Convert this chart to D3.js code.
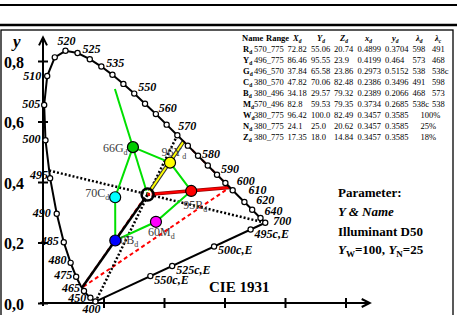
<!DOCTYPE html>
<html>
<head>
<meta charset="utf-8">
<script src="https://cdn.jsdelivr.net/npm/d3@7"></script>
<style>
  body { margin: 0; background: #fff; }
  svg { display: block; font-family: "Liberation Serif", "Times New Roman", serif; }
</style>
</head>
<body>
<div id="chart"></div>
<script>
// CIE 1931 spectral locus (chromaticity x, y)
const locusNm = [380, 400, 420, 440, 450, 455, 460, 465, 470, 475, 480, 485, 490, 495, 500, 505, 510, 515, 520, 525, 530, 535, 540, 545, 550, 555, 560, 565, 570, 575, 580, 585, 590, 595, 600, 605, 610, 615, 620, 630, 640, 650, 700];
const locusX = [0.1741, 0.1733, 0.1714, 0.1644, 0.1566, 0.1510, 0.1440, 0.1355, 0.1241, 0.1096, 0.0913, 0.0687, 0.0454, 0.0235, 0.0082, 0.0039, 0.0139, 0.0389, 0.0743, 0.1142, 0.1547, 0.1929, 0.2296, 0.2658, 0.3016, 0.3373, 0.3731, 0.4087, 0.4441, 0.4788, 0.5125, 0.5448, 0.5752, 0.6029, 0.6270, 0.6482, 0.6658, 0.6801, 0.6915, 0.7079, 0.7190, 0.7260, 0.7347];
const locusY = [0.0050, 0.0048, 0.0051, 0.0109, 0.0177, 0.0227, 0.0297, 0.0399, 0.0578, 0.0868, 0.1327, 0.2007, 0.2950, 0.4127, 0.5384, 0.6548, 0.7502, 0.8120, 0.8338, 0.8262, 0.8059, 0.7816, 0.7543, 0.7243, 0.6923, 0.6589, 0.6245, 0.5896, 0.5547, 0.5202, 0.4866, 0.4544, 0.4242, 0.3965, 0.3725, 0.3514, 0.3340, 0.3197, 0.3083, 0.2920, 0.2809, 0.2740, 0.2653];
const markedNm = [400, 450, 465, 475, 480, 485, 490, 495, 500, 505, 510, 515, 520, 525, 530, 535, 540, 545, 550, 555, 560, 565, 570, 575, 580, 585, 590, 595, 600, 610, 620, 640, 700];
const labeledNm = [400, 450, 465, 475, 480, 485, 490, 495, 500, 505, 510, 520, 525, 535, 550, 560, 570, 580, 590, 600, 610, 620, 640, 700];

// complementary wavelengths on the purple line (relative to E)
const purpleLabels = ['495c,E', '500c,E', '525c,E', '550c,E'];
const purpleX = [0.6863, 0.5655, 0.4270, 0.3549];
const purpleY = [0.2428, 0.1868, 0.1225, 0.0890];

// colour table
const tabNames = ['R', 'Y', 'G', 'C', 'B', 'M', 'W', 'N', 'Z'];
const tabRange = ['570_775', '496_775', '496_570', '380_570', '380_496', '570_496', '380_775', '380_775', '380_775'];
const tabXd = ['72.82', '86.46', '37.84', '47.82', '34.18', '82.8', '96.42', '24.1', '17.35'];
const tabYd = ['55.06', '95.55', '65.58', '70.06', '29.57', '59.53', '100.0', '25.0', '18.0'];
const tabZd = ['20.74', '23.9', '23.86', '82.48', '79.32', '79.35', '82.49', '20.62', '14.84'];
const tabxd = ['0.4899', '0.4199', '0.2973', '0.2386', '0.2389', '0.3734', '0.3457', '0.3457', '0.3457'];
const tabyd = ['0.3704', '0.464', '0.5152', '0.3496', '0.2066', '0.2685', '0.3585', '0.3585', '0.3585'];
const tabLd = ['598', '573', '538', '491', '468', '538c', '', '', ''];
const tabLc = ['491', '468', '538c', '598', '573', '538', '100%', '25%', '18%'];

// plotted colours R Y G C B M, with their Y level
const pointLevel = [95, 96, 66, 70, 70, 60];
const pointColor = ['#ff0000', '#ffff00', '#00cc00', '#00ffff', '#0000ff', '#ff00ff'];

// end points on the spectral locus / gamut corners: R 598, Y 573, G corner, B 468
const endX = [0.6174, 0.4649, 0.2377, 0.1287];
const endY = [0.3821, 0.5340, 0.7074, 0.0506];

const yTicks = [0, 0.2, 0.4, 0.6, 0.8];
const xTicks = [0.2, 0.4, 0.6, 0.8, 1.0];

const W = 457, H = 315;
const svg = d3.select('#chart').append('svg').attr('width', W).attr('height', H);

const x = d3.scaleLinear().domain([0, 1]).range([43, 345.5]);
const y = d3.scaleLinear().domain([0, 0.8]).range([303, 61]);

// frame lines at the top
svg.append('line').attr('x1', 0).attr('x2', W).attr('y1', 5).attr('y2', 5).attr('stroke', '#000').attr('stroke-width', 2);
svg.append('line').attr('x1', 0).attr('x2', W).attr('y1', 25).attr('y2', 25).attr('stroke', '#000').attr('stroke-width', 2.5);
svg.append('rect').attr('x', 1).attr('y', 30).attr('width', 452).attr('height', 300)
    .attr('fill', 'none').attr('stroke', '#000').attr('stroke-width', 1.3);

// Axes
const yAxis = svg.append('g')
    .attr('transform', 'translate(' + x(0) + ',0)')
    .call(d3.axisLeft(y).tickValues(yTicks).tickSize(5).tickPadding(14)
        .tickFormat(d => d.toFixed(1).replace('.', ',')));
yAxis.select('.domain').remove();
yAxis.selectAll('.tick line').attr('x1', 5).attr('x2', -5).attr('stroke-width', 2);
yAxis.selectAll('.tick text')
    .attr('font-family', 'Liberation Serif').attr('font-weight', 'bold').attr('font-size', 16).attr('dy', '0.4em');

const xAxis = svg.append('g')
    .attr('transform', 'translate(0,' + y(0) + ')')
    .call(d3.axisBottom(x).tickValues(xTicks).tickSize(5).tickFormat(''));
xAxis.select('.domain').remove();
xAxis.selectAll('.tick line').attr('y1', -5).attr('y2', 5).attr('stroke-width', 2);

// axis lines with arrows
svg.append('line').attr('x1', x(0)).attr('x2', x(0)).attr('y1', y(-0.01)).attr('y2', y(0.878))
    .attr('stroke', '#000').attr('stroke-width', 2);
svg.append('path')
    .attr('d', 'M' + (x(0) - 4) + ',' + (y(0.878) + 8) + 'L' + x(0) + ',' + y(0.878) + 'L' + (x(0) + 4) + ',' + (y(0.878) + 8))
    .attr('fill', 'none').attr('stroke', '#000').attr('stroke-width', 2);
svg.append('line').attr('x1', x(-0.01)).attr('x2', x(1.08)).attr('y1', y(0)).attr('y2', y(0))
    .attr('stroke', '#000').attr('stroke-width', 2);
svg.append('path')
    .attr('d', 'M' + (x(1.08) - 8) + ',' + (y(0) - 4) + 'L' + x(1.08) + ',' + y(0) + 'L' + (x(1.08) - 8) + ',' + (y(0) + 4))
    .attr('fill', 'none').attr('stroke', '#000').attr('stroke-width', 2);
svg.append('text').attr('x', 13).attr('y', 47).attr('font-size', 17)
    .attr('font-weight', 'bold').attr('font-style', 'italic').text('y');

const loc = nm => locusNm.indexOf(nm);
const wx = x(+tabxd[6]), wy = y(+tabyd[6]);

// gamut triangle (red dashed)
const tri = [0, 1, 3, 0].map(i => [x(endX[i]), y(endY[i])]);
svg.append('path').attr('d', d3.line()(tri))
    .attr('fill', 'none').attr('stroke', '#ff0000').attr('stroke-width', 2).attr('stroke-dasharray', '4,3');

// boundary lines through the white point (black dotted)
const i496 = [loc(495), loc(500)];
const x496 = locusX[i496[0]] + 0.2 * (locusX[i496[1]] - locusX[i496[0]]);
const y496 = locusY[i496[0]] + 0.2 * (locusY[i496[1]] - locusY[i496[0]]);
svg.append('path')
    .attr('d', d3.line()([[x(x496), y(y496)], [x(locusX[loc(700)]), y(locusY[loc(700)])]]))
    .attr('fill', 'none').attr('stroke', '#000').attr('stroke-width', 2.5).attr('stroke-dasharray', '2,2');
svg.append('path')
    .attr('d', d3.line()([[x(locusX[loc(570)]), y(locusY[loc(570)])], [x(locusX[loc(380)]), y(locusY[loc(380)])]]))
    .attr('fill', 'none').attr('stroke', '#000').attr('stroke-width', 2.5).attr('stroke-dasharray', '2,2');

// green hexagon G Y R M B C
const hexOrder = [2, 1, 0, 5, 4, 3, 2];
svg.append('path')
    .attr('d', d3.line()(hexOrder.map(i => [x(+tabxd[i]), y(+tabyd[i])])))
    .attr('fill', 'none').attr('stroke', '#00e000').attr('stroke-width', 2);

// lines from white point out to the locus / gamut corners
svg.append('line').attr('x1', wx).attr('y1', wy).attr('x2', x(endX[2])).attr('y2', y(endY[2]))
    .attr('stroke', '#00e000').attr('stroke-width', 2);
svg.append('line').attr('x1', wx).attr('y1', wy).attr('x2', x(endX[3])).attr('y2', y(endY[3]))
    .attr('stroke', '#000').attr('stroke-width', 2.5);
svg.append('line').attr('x1', wx).attr('y1', wy).attr('x2', x(endX[1])).attr('y2', y(endY[1]))
    .attr('stroke', '#333').attr('stroke-width', 4);
svg.append('line').attr('x1', wx).attr('y1', wy).attr('x2', x(endX[1])).attr('y2', y(endY[1]))
    .attr('stroke', '#ffff00').attr('stroke-width', 2);
svg.append('line').attr('x1', wx).attr('y1', wy).attr('x2', x(endX[0])).attr('y2', y(endY[0]))
    .attr('stroke', '#900').attr('stroke-width', 3.5);
svg.append('line').attr('x1', wx).attr('y1', wy).attr('x2', x(endX[0])).attr('y2', y(endY[0]))
    .attr('stroke', '#ff0000').attr('stroke-width', 2);

// spectral locus and purple line
svg.append('path')
    .attr('d', d3.line()(locusNm.map((d, i) => [x(locusX[i]), y(locusY[i])])))
    .attr('fill', 'none').attr('stroke', '#000').attr('stroke-width', 2);
svg.append('line')
    .attr('x1', x(locusX[loc(400)])).attr('y1', y(locusY[loc(400)]))
    .attr('x2', x(locusX[loc(700)])).attr('y2', y(locusY[loc(700)]))
    .attr('stroke', '#000').attr('stroke-width', 2);

svg.selectAll('.mark')
    .data(markedNm)
    .enter()
    .append('circle')
    .attr('class', 'mark')
    .attr('cx', d => x(locusX[loc(d)]))
    .attr('cy', d => y(locusY[loc(d)]))
    .attr('r', 2.6)
    .attr('fill', '#fff').attr('stroke', '#000').attr('stroke-width', 1.2);

svg.selectAll('.pmark')
    .data(purpleLabels)
    .enter()
    .append('circle')
    .attr('class', 'pmark')
    .attr('cx', (d, i) => x(purpleX[i]))
    .attr('cy', (d, i) => y(purpleY[i]))
    .attr('r', 2.6)
    .attr('fill', '#fff').attr('stroke', '#000').attr('stroke-width', 1.2);

// wavelength label placement
const labelPos = {
    400: [-4, 11, 'middle'], 450: [-4, 4, 'end'], 465: [-4, 1.5, 'end'], 475: [-4, 2, 'end'],
    480: [-4, 1, 'end'], 485: [-5, 3, 'end'], 490: [-6, 3, 'end'], 495: [-2, 1, 'end'],
    500: [-5, 3, 'end'], 505: [-4, 3, 'end'], 510: [-6, 4, 'end'], 520: [1, -6, 'middle'],
    525: [5, 0, 'start'], 535: [5, 0, 'start'], 550: [4, -3, 'start'], 560: [3, -2, 'start'],
    570: [1, -5, 'start'], 580: [4, 2, 'start'], 590: [4, -2, 'start'], 600: [4, -5, 'start'],
    610: [4, -7.5, 'start'], 620: [4, -5.5, 'start'], 640: [4, -3.5, 'start'], 700: [8, 2.5, 'start']
};
svg.selectAll('.wl')
    .data(labeledNm)
    .enter()
    .append('text')
    .attr('class', 'wl')
    .attr('x', d => x(locusX[loc(d)]) + labelPos[d][0])
    .attr('y', d => y(locusY[loc(d)]) + labelPos[d][1])
    .attr('text-anchor', d => labelPos[d][2])
    .attr('font-size', 12).attr('font-weight', 'bold').attr('font-style', 'italic')
    .text(d => d);

svg.selectAll('.pl')
    .data(purpleLabels)
    .enter()
    .append('text')
    .attr('class', 'pl')
    .attr('x', (d, i) => x(purpleX[i]) + 4)
    .attr('y', (d, i) => y(purpleY[i]) + 8)
    .attr('font-size', 12).attr('font-weight', 'bold').attr('font-style', 'italic')
    .text(d => d);

// colour points
const pointLabelPos = [[-8, 18], [-8.5, -6.5], [-30, 4.5], [-30, 0], [-1, 3], [-8, 14]];
const pts = pointLevel.map((d, i) => i);
const ptLabels = svg.selectAll('.ptl')
    .data(pts)
    .enter()
    .append('text')
    .attr('class', 'ptl')
    .attr('x', i => x(+tabxd[i]) + pointLabelPos[i][0])
    .attr('y', i => y(+tabyd[i]) + pointLabelPos[i][1])
    .attr('font-size', 12).attr('fill', '#3c3c3c');
ptLabels.append('tspan').text(i => pointLevel[i] + tabNames[i]);
ptLabels.append('tspan').attr('font-size', 8).attr('dy', 3).text('d');

svg.selectAll('.pt')
    .data(pts)
    .enter()
    .append('circle')
    .attr('class', 'pt')
    .attr('cx', i => x(+tabxd[i]))
    .attr('cy', i => y(+tabyd[i]))
    .attr('r', 5.5)
    .attr('fill', i => pointColor[i]).attr('stroke', '#000').attr('stroke-width', 1.2);

svg.append('circle').attr('cx', wx).attr('cy', wy).attr('r', 6)
    .attr('fill', 'none').attr('stroke', '#000').attr('stroke-width', 2.5);
svg.append('circle').attr('cx', wx).attr('cy', wy).attr('r', 3.4)
    .attr('fill', 'none').attr('stroke', '#fff').attr('stroke-width', 1.5);

// table
const colX = [243, 254, 287.5, 311, 334, 357.5, 385, 412.5, 432];
const rowY0 = 52, rowH = 11;
const header = [['Name', ''], ['Range', ''], ['X', 'd'], ['Y', 'd'], ['Z', 'd'], ['x', 'd'], ['y', 'd'], ['λ', 'd'], ['λ', 'c']];
const headX = [242, 266, 293, 317, 340, 365, 392, 416, 435];
const tab = svg.append('g').attr('font-size', 8.5);
header.forEach((h, j) => {
    const t = tab.append('text').attr('x', headX[j]).attr('y', rowY0 - rowH).attr('font-weight', 'bold')
        .attr('font-style', j > 1 ? 'italic' : 'normal');
    t.append('tspan').text(h[0]);
    if (h[1]) t.append('tspan').attr('font-size', 5.5).attr('dy', 2).text(h[1]);
});
tabNames.forEach((n, i) => {
    const yy = rowY0 + i * rowH;
    const t = tab.append('text').attr('x', colX[0]).attr('y', yy).attr('font-weight', 'bold');
    t.append('tspan').text(n);
    t.append('tspan').attr('font-size', 5.5).attr('dy', 2).text('d');
    const cells = [tabRange[i], tabXd[i], tabYd[i], tabZd[i], tabxd[i], tabyd[i], tabLd[i], tabLc[i]];
    cells.forEach((c, j) => {
        if (!c) return;
        let cx = colX[j + 1];
        if (j === 7 && !tabLd[i]) cx = colX[7] + 8;
        tab.append('text').attr('x', cx).attr('y', yy).text(c);
    });
});

// annotation text
svg.append('text').attr('x', 209).attr('y', 292).attr('font-size', 15).attr('font-weight', 'bold').text('CIE 1931');
const ann = svg.append('g').attr('font-size', 13).attr('font-weight', 'bold');
ann.append('text').attr('x', 338).attr('y', 197).text('Parameter:');
ann.append('text').attr('x', 338).attr('y', 216).attr('font-style', 'italic').text('Y & Name');
ann.append('text').attr('x', 338).attr('y', 236).text('Illuminant D50');
const yw = ann.append('text').attr('x', 338).attr('y', 254);
yw.append('tspan').attr('font-style', 'italic').text('Y');
yw.append('tspan').attr('font-size', 9).attr('dy', 3).text('W');
yw.append('tspan').attr('dy', -3).text('=100, ');
yw.append('tspan').attr('font-style', 'italic').text('Y');
yw.append('tspan').attr('font-size', 9).attr('dy', 3).text('N');
yw.append('tspan').attr('dy', -3).text('=25');
</script>
</body>
</html>
